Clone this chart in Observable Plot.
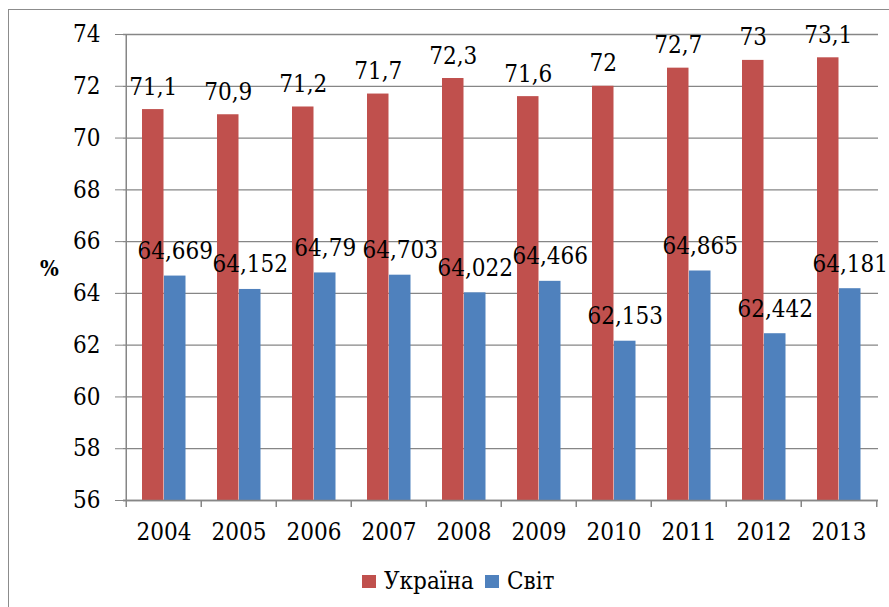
<!DOCTYPE html>
<html><head><meta charset="utf-8">
<script src="https://cdn.jsdelivr.net/npm/d3@7"></script>
<script src="https://cdn.jsdelivr.net/npm/@observablehq/plot@0.6"></script>
<style>
html,body{margin:0;padding:0;background:#fff;overflow:hidden;width:889px;height:607px;}
#wrap{position:relative;width:889px;height:607px;font-family:"DejaVu Serif Condensed","DejaVu Serif";font-stretch:condensed;color:#000;}
#chart{position:absolute;left:0;top:0;}
#chart svg, #chart svg text{font-family:"DejaVu Serif Condensed","DejaVu Serif" !important;font-stretch:condensed;}
#border{position:absolute;left:8px;top:9px;width:2000px;height:2000px;border-top:1.5px solid #8c8c8c;border-left:1.5px solid #8c8c8c;pointer-events:none;}
#pct{position:absolute;left:40px;top:253px;font-size:22px;font-weight:bold;line-height:30px;}
#legend{position:absolute;left:362px;top:566px;height:30px;display:flex;align-items:center;font-size:24px;line-height:30px;}
.sw{width:14px;height:13px;display:inline-block;margin-right:8px;}
.item{display:flex;align-items:center;margin-right:11px;}
</style>
</head><body>
<div id="wrap">
  <div id="chart"></div>
  <div id="pct">%</div>
  <div id="legend"></div>
  <div id="border"></div>
</div>
<script>
const years = ["2004","2005","2006","2007","2008","2009","2010","2011","2012","2013"];
const ukraine = [71.1, 70.9, 71.2, 71.7, 72.3, 71.6, 72, 72.7, 73, 73.1];
const world = [64.669, 64.152, 64.79, 64.703, 64.022, 64.466, 62.153, 64.865, 62.442, 64.181];
const seriesNames = ["Україна", "Світ"];
const seriesColors = ["#C0504D", "#4F81BD"];
const yTicks = [56, 58, 60, 62, 64, 66, 68, 70, 72, 74];

const W = 889, H = 550, ML = 123, MR = 11, MT = 34, MB = 50;
const STEP = (W - ML - MR) / years.length;
const BARW = 22;
const padL = 16;
const FS = 24;

const dataU = years.map((y, i) => ({year: y, value: ukraine[i]}));
const dataW = years.map((y, i) => ({year: y, value: world[i]}));
const fmt = v => String(v).replace(".", ",");
const grid = "#868686";

const plot = Plot.plot({
  width: W, height: H,
  marginLeft: ML, marginRight: MR, marginTop: MT, marginBottom: MB,
  style: {fontFamily: "DejaVu Serif Condensed, DejaVu Serif", background: "transparent", color: "#000"},
  x: {domain: years, padding: 0, label: null},
  y: {domain: [56, 74], label: null},
  marks: [
    Plot.gridY(yTicks, {stroke: grid, strokeOpacity: 1, strokeWidth: 1.3}),
    Plot.barY(dataU, {x: "year", y1: 56, y2: "value", fill: seriesColors[0],
      insetLeft: padL, insetRight: STEP - padL - BARW}),
    Plot.barY(dataW, {x: "year", y1: 56, y2: "value", fill: seriesColors[1],
      insetLeft: padL + BARW, insetRight: STEP - padL - 2 * BARW}),
    Plot.ruleY([56], {stroke: grid, strokeWidth: 1.5}),
    Plot.ruleX([years[0]], {y1: 56, y2: 74, dx: -STEP / 2, stroke: grid, strokeWidth: 1.5}),
    Plot.ruleX(years, {y1: 56, y2: 56, insetBottom: -7, dx: -STEP / 2, stroke: grid, strokeWidth: 1.5}),
    Plot.ruleX([years[years.length - 1]], {y1: 56, y2: 56, insetBottom: -7, dx: STEP / 2, stroke: grid, strokeWidth: 1.5}),
    Plot.axisY(yTicks, {tickSize: 8, tickPadding: 15, fontSize: FS, stroke: grid, fill: "#000", label: null}),
    Plot.axisX({tickSize: 0, tickPadding: 22, fontSize: FS, fill: "#000", label: null}),
    Plot.text(dataU, {x: "year", y: "value", text: d => fmt(d.value), dx: padL + BARW / 2 - STEP / 2,
      dy: -15, lineAnchor: "bottom", fontSize: FS, fill: "#000"}),
    Plot.text(dataW, {x: "year", y: "value", text: d => fmt(d.value), dx: padL + 1.5 * BARW - STEP / 2,
      dy: -17, lineAnchor: "bottom", fontSize: FS, fill: "#000"})
  ]
});
document.getElementById("chart").appendChild(plot);

const leg = document.getElementById("legend");
seriesNames.forEach((n, i) => {
  const it = document.createElement("div");
  it.className = "item";
  const sw = document.createElement("span");
  sw.className = "sw";
  sw.style.background = seriesColors[i];
  const t = document.createElement("span");
  t.textContent = n;
  it.appendChild(sw); it.appendChild(t);
  leg.appendChild(it);
});
</script>
</body></html>
